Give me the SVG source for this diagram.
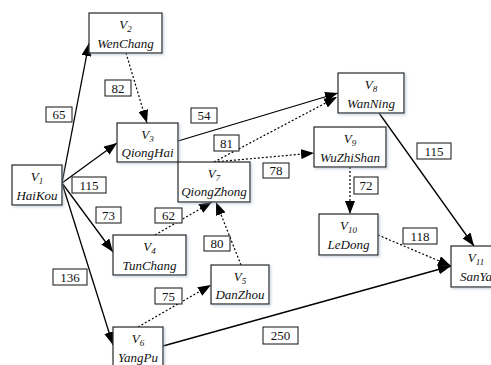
<svg xmlns="http://www.w3.org/2000/svg" width="491" height="365" viewBox="0 0 491 365">
<style>
.node rect{fill:#fff;stroke:#222;stroke-width:1.2;filter:url(#sh)}
.nt{font-family:"Liberation Serif","Times New Roman",serif;font-style:italic;font-size:13px;text-anchor:middle;fill:#111}
.sub{font-size:9px}
.lbl rect{fill:#fff;stroke:#111;stroke-width:1}
.lbl text{font-family:"Liberation Serif","Times New Roman",serif;font-size:13px;text-anchor:middle;fill:#111}
.s{stroke:#000;stroke-width:1.3;fill:none;marker-end:url(#ah)}
.d{stroke:#000;stroke-width:1.2;fill:none;stroke-dasharray:2,2;marker-end:url(#ah)}
</style>
<defs>
<marker id="ah" markerUnits="userSpaceOnUse" markerWidth="13" markerHeight="10" refX="13" refY="5" orient="auto">
<path d="M0,0 L13,5 L0,10 z" fill="#000"/>
</marker>
<filter id="sh" x="-10%" y="-10%" width="130%" height="130%">
<feDropShadow dx="1.5" dy="1.5" stdDeviation="1" flood-color="#9ab" flood-opacity="0.5"/>
</filter>
</defs>
<rect width="491" height="365" fill="#fff"/>
<g id="connectors">
<line class="s" x1="62" y1="183" x2="89" y2="43"/>
<line class="s" x1="62" y1="183" x2="117" y2="143"/>
<line class="s" x1="62" y1="183" x2="113" y2="252"/>
<line class="s" x1="62" y1="183" x2="113" y2="345"/>
<line class="s" x1="178" y1="141" x2="338" y2="93"/>
<line class="s" x1="379" y1="113" x2="474" y2="246"/>
<line class="s" x1="163" y1="346" x2="451" y2="266"/>
<line class="d" x1="126" y1="53" x2="147" y2="123"/>
<line class="d" x1="214" y1="162" x2="337" y2="97"/>
<line class="d" x1="214" y1="162" x2="314" y2="153"/>
<line class="d" x1="350" y1="167" x2="350" y2="214"/>
<line class="d" x1="378" y1="235" x2="451" y2="266"/>
<line class="d" x1="155" y1="235" x2="212" y2="202"/>
<line class="d" x1="241" y1="265" x2="216" y2="202"/>
<line class="d" x1="138" y1="327" x2="211" y2="285"/>
</g>
<g id="V1" class="node"><rect x="12" y="165" width="50" height="40"/><text class="nt" x="37" y="181">V<tspan class="sub" dy="3">1</tspan></text><text class="nt" x="37" y="200">HaiKou</text></g>
<g id="V2" class="node"><rect x="89" y="13" width="73" height="40"/><text class="nt" x="125.5" y="29">V<tspan class="sub" dy="3">2</tspan></text><text class="nt" x="125.5" y="48">WenChang</text></g>
<g id="V3" class="node"><rect x="117" y="123" width="61" height="39"/><text class="nt" x="147.5" y="139">V<tspan class="sub" dy="3">3</tspan></text><text class="nt" x="147.5" y="157">QiongHai</text></g>
<g id="V4" class="node"><rect x="113" y="235" width="73" height="40"/><text class="nt" x="149.5" y="251">V<tspan class="sub" dy="3">4</tspan></text><text class="nt" x="149.5" y="270">TunChang</text></g>
<g id="V5" class="node"><rect x="211" y="265" width="58" height="39"/><text class="nt" x="240" y="281">V<tspan class="sub" dy="3">5</tspan></text><text class="nt" x="240" y="299">DanZhou</text></g>
<g id="V6" class="node"><rect x="113" y="327" width="50" height="40"/><text class="nt" x="138" y="343">V<tspan class="sub" dy="3">6</tspan></text><text class="nt" x="138" y="362">YangPu</text></g>
<g id="V7" class="node"><rect x="178" y="162" width="72" height="40"/><text class="nt" x="214" y="178">V<tspan class="sub" dy="3">7</tspan></text><text class="nt" x="214" y="196">QiongZhong</text></g>
<g id="V8" class="node"><rect x="338" y="73" width="66" height="40"/><text class="nt" x="371" y="89">V<tspan class="sub" dy="3">8</tspan></text><text class="nt" x="371" y="108">WanNing</text></g>
<g id="V9" class="node"><rect x="314" y="127" width="72" height="40"/><text class="nt" x="350" y="143">V<tspan class="sub" dy="3">9</tspan></text><text class="nt" x="350" y="162">WuZhiShan</text></g>
<g id="V10" class="node"><rect x="319" y="214" width="59" height="41"/><text class="nt" x="348.5" y="230">V<tspan class="sub" dy="3">10</tspan></text><text class="nt" x="348.5" y="249">LeDong</text></g>
<g id="V11" class="node"><rect x="451" y="246" width="54" height="41"/><text class="nt" x="476" y="262">V<tspan class="sub" dy="3">11</tspan></text><text class="nt" x="476" y="281">SanYa</text></g>
<g id="labels">
<g class="lbl"><rect x="46" y="107" width="26" height="15"/><text x="59" y="119">65</text></g>
<g class="lbl"><rect x="105" y="80" width="26" height="16"/><text x="118" y="92.5">82</text></g>
<g class="lbl"><rect x="191" y="108" width="26" height="15"/><text x="204" y="120">54</text></g>
<g class="lbl"><rect x="214" y="135" width="25" height="16"/><text x="226.5" y="147.5">81</text></g>
<g class="lbl"><rect x="72" y="177" width="34" height="16"/><text x="89" y="189.5">115</text></g>
<g class="lbl"><rect x="263" y="163" width="26" height="15"/><text x="276" y="175">78</text></g>
<g class="lbl"><rect x="96" y="207" width="25" height="16"/><text x="108.5" y="219.5">73</text></g>
<g class="lbl"><rect x="155" y="208" width="27" height="15"/><text x="168.5" y="220">62</text></g>
<g class="lbl"><rect x="204" y="236" width="26" height="15"/><text x="217" y="248">80</text></g>
<g class="lbl"><rect x="53" y="269" width="34" height="16"/><text x="70" y="281.5">136</text></g>
<g class="lbl"><rect x="155" y="288" width="27" height="16"/><text x="168.5" y="300.5">75</text></g>
<g class="lbl"><rect x="417" y="143" width="34" height="16"/><text x="434" y="155.5">115</text></g>
<g class="lbl"><rect x="354" y="177" width="24" height="17"/><text x="366" y="190">72</text></g>
<g class="lbl"><rect x="403" y="228" width="34" height="16"/><text x="420" y="240.5">118</text></g>
<g class="lbl"><rect x="263" y="327" width="35" height="17"/><text x="280.5" y="340">250</text></g>
</g>
</svg>
